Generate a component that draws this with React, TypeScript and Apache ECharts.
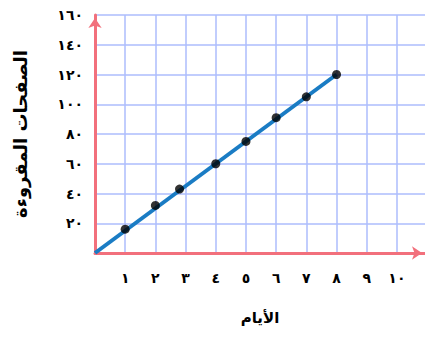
import React, { useEffect, useRef } from "react";
import * as echarts from "echarts";

const days = [1, 2, 2.8, 4, 5, 6, 7, 8];
const pages = [16, 32, 43, 60, 75, 91, 105, 120];
const lineDays = [0, 8];
const linePages = [0, 120];
const xTickLabels = ["", "١", "٢", "٣", "٤", "٥", "٦", "٧", "٨", "٩", "١٠"];
const yTickLabels = ["", "٢٠", "٤٠", "٦٠", "٨٠", "١٠٠", "١٢٠", "١٤٠", "١٦٠"];
const xName = "الأيام";
const yName = "الصفحات المقروءة";

const FONT = "DejaVu Sans";
const AXIS_RED = "#f2707c";
const GRID_BLUE = "#adbcfd";

export default function App() {
  const ref = useRef<HTMLDivElement>(null);
  useEffect(() => {
    if (!ref.current) return;
    const chart = echarts.init(ref.current, null, { renderer: "svg" });
    chart.setOption({
      animation: false,
      backgroundColor: "#ffffff",
      grid: { left: 95, top: 15, right: 0, bottom: 85, containLabel: false },
      xAxis: {
        type: "value",
        min: 0,
        max: 10.93,
        interval: 1,
        name: xName,
        nameLocation: "middle",
        nameGap: 57,
        nameTextStyle: { fontFamily: FONT, fontWeight: "bold", fontSize: 15, color: "#000" },
        axisLine: {
          show: true,
          symbol: ["none", "arrow"],
          symbolSize: [10, 10],
          symbolOffset: [0, -3],
          lineStyle: { color: AXIS_RED, width: 3 },
        },
        axisTick: { show: false },
        axisLabel: {
          margin: 18,
          fontFamily: FONT,
          fontWeight: "bold",
          fontSize: 14,
          color: "#000",
          showMaxLabel: false,
          formatter: (v: number) => {
            const i = Math.round(v);
            return Math.abs(v - i) < 1e-6 && i < xTickLabels.length ? xTickLabels[i] : "";
          },
        },
        splitLine: {
          show: true,
          showMaxLine: false,
          lineStyle: { color: GRID_BLUE, width: 1.5 },
        },
      },
      yAxis: {
        type: "value",
        min: 0,
        max: 160,
        interval: 20,
        name: yName,
        nameLocation: "middle",
        nameGap: 66,
        nameRotate: 90,
        nameTextStyle: { fontFamily: FONT, fontWeight: "bold", fontSize: 18, color: "#000" },
        axisLine: {
          show: true,
          symbol: ["none", "arrow"],
          symbolSize: [10, 10],
          symbolOffset: [0, -3],
          lineStyle: { color: AXIS_RED, width: 3 },
        },
        axisTick: { show: false },
        axisLabel: {
          margin: 12,
          fontFamily: FONT,
          fontWeight: "bold",
          fontSize: 14,
          color: "#000",
          formatter: (v: number) => {
            const i = Math.round(v / 20);
            return yTickLabels[i] ?? "";
          },
        },
        splitLine: {
          show: true,
          lineStyle: { color: GRID_BLUE, width: 1.5 },
        },
      },
      series: [
        {
          type: "line",
          data: lineDays.map((d, i) => [d, linePages[i]]),
          showSymbol: false,
          symbol: "none",
          lineStyle: { color: "#1a7cc4", width: 4 },
          z: 3,
        },
        {
          type: "scatter",
          data: days.map((d, i) => [d, pages[i]]),
          symbol: "circle",
          symbolSize: 9,
          itemStyle: { color: "#000000" },
          z: 4,
        },
      ],
    });
    return () => chart.dispose();
  }, []);
  return (
    <div
      ref={ref}
      style={{ position: "fixed", left: 0, top: 0, width: 425, height: 338 }}
    />
  );
}
